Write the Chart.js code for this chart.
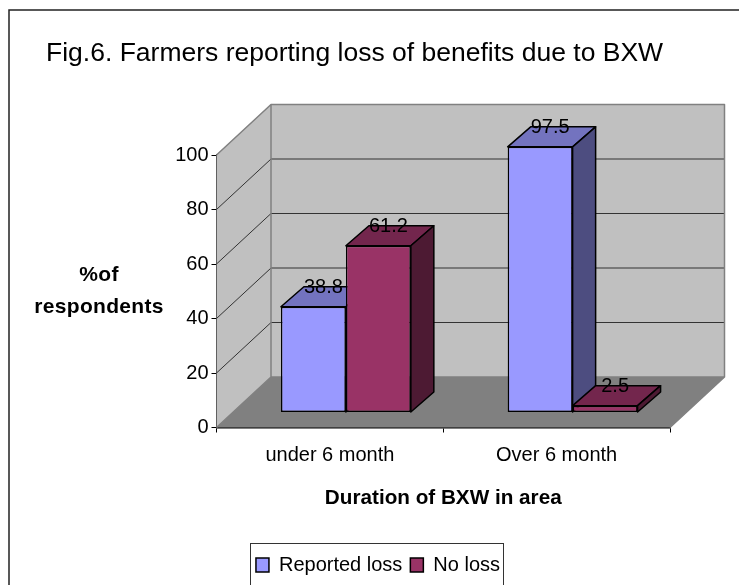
<!DOCTYPE html>
<html>
<head>
<meta charset="utf-8">
<style>html,body{margin:0;padding:0;background:#fff;overflow:hidden}canvas{display:block}</style>
<script src="https://cdn.jsdelivr.net/npm/chart.js@4"></script>
</head>
<body>
<canvas id="c" width="739" height="585"></canvas>
<script>
const categories = ["under 6 month", "Over 6 month"];
const reportedLoss = [38.8, 97.5];
const noLoss = [61.2, 2.5];
const seriesNames = ["Reported loss", "No loss"];
const chartTitle = "Fig.6. Farmers reporting loss of benefits due to BXW";
const xTitle = "Duration of BXW in area";
const yTitleLines = ["%of", "respondents"];

const FONT = '"Liberation Sans", Arial, sans-serif';
const wallDx = 54.5, wallDy = -50.5;   // plot depth
const barDx = 16, barDy = -15;         // bars stand inside the depth
const faceDx = 23, faceDy = -20;       // bar depth

const faces = {
  0: {front: "#9999FF", top: "#7373BF", side: "#4D4D80"},
  1: {front: "#993366", top: "#73264D", side: "#4D1A33"}
};

function poly(ctx, pts, fill, stroke, lw) {
  ctx.beginPath();
  pts.forEach((p, i) => i ? ctx.lineTo(p[0], p[1]) : ctx.moveTo(p[0], p[1]));
  ctx.closePath();
  if (fill) { ctx.fillStyle = fill; ctx.fill(); }
  if (stroke) { ctx.strokeStyle = stroke; ctx.lineWidth = lw; ctx.stroke(); }
}

const box3d = {
  id: "box3d",
  afterLayout(chart) {
    // legend sits a little right of the plot's centre
    chart.legend.left += 20;
    chart.legend.right += 20;
  },
  beforeDraw(chart) {
    const ctx = chart.ctx;
    ctx.save();
    ctx.strokeStyle = "#222";
    ctx.lineWidth = 1.5;
    ctx.strokeRect(9, 10, 900, 900);
    // legend frame
    ctx.strokeStyle = "#333";
    ctx.lineWidth = 1;
    ctx.strokeRect(250.5, 543.5, 253, 60);
    ctx.restore();
  },
  beforeDatasetsDraw(chart) {
    const ctx = chart.ctx, a = chart.chartArea, y = chart.scales.y;
    const L = a.left, R = a.right, T = a.top, B = a.bottom;
    const lx = L + wallDx, rx = R + wallDx, ty = T + wallDy, by = B + wallDy;
    ctx.save();
    ctx.lineJoin = "round";
    poly(ctx, [[L, T], [lx, ty], [lx, by], [L, B]], "#C0C0C0", null);
    poly(ctx, [[lx, ty], [rx, ty], [rx, by], [lx, by]], "#C0C0C0", null);
    poly(ctx, [[L, B], [R, B], [rx, by], [lx, by]], "#808080", null);
    // gridlines
    y.ticks.forEach(t => {
      const py = y.getPixelForValue(t.value);
      if (t.value === 0 || t.value === 100) return;
      ctx.beginPath();
      ctx.moveTo(L, py);
      ctx.lineTo(lx, py + wallDy);
      ctx.lineTo(rx, py + wallDy);
      ctx.strokeStyle = "#333";
      ctx.lineWidth = 1;
      ctx.stroke();
    });
    // wall edges
    ctx.strokeStyle = "#808080";
    ctx.lineWidth = 1.5;
    ctx.beginPath();
    ctx.moveTo(L, T); ctx.lineTo(lx, ty); ctx.lineTo(rx, ty); ctx.lineTo(rx, by); ctx.lineTo(R, B);
    ctx.moveTo(lx, ty); ctx.lineTo(lx, by); ctx.lineTo(L, B);
    ctx.moveTo(lx, by); ctx.lineTo(rx, by);
    ctx.stroke();

    // top and side faces of bars, left to right
    const items = [];
    chart.data.datasets.forEach((d, ds) => {
      chart.getDatasetMeta(ds).data.forEach(el => items.push({el, ds}));
    });
    items.sort((p, q) => p.el.x - q.el.x);
    items.forEach(({el, ds}) => {
      const l = el.x - el.width / 2 + barDx, r = el.x + el.width / 2 + barDx;
      const t = el.y + barDy, b = el.base + barDy;
      poly(ctx, [[l, t], [r, t], [r + faceDx, t + faceDy], [l + faceDx, t + faceDy]], faces[ds].top, "#000", 1.5);
      poly(ctx, [[r, t], [r + faceDx, t + faceDy], [r + faceDx, b + faceDy], [r, b]], faces[ds].side, "#000", 1.5);
    });
    ctx.restore();

    ctx.save();
    ctx.translate(barDx, barDy);
  },
  afterDatasetsDraw(chart) {
    const ctx = chart.ctx;
    ctx.restore();
    ctx.save();
    ctx.fillStyle = "#000";
    ctx.textAlign = "center";
    ctx.textBaseline = "middle";
    ctx.font = "20px " + FONT;
    chart.data.datasets.forEach((d, ds) => {
      chart.getDatasetMeta(ds).data.forEach((el, i) => {
        ctx.fillText(String(d.data[i]), el.x + barDx + 10, el.y + barDy - 19);
      });
    });
    // horizontal value-axis title
    ctx.font = "bold 21px " + FONT;
    if ("letterSpacing" in ctx) ctx.letterSpacing = "0.3px";
    ctx.fillText(yTitleLines[0], 99, 275);
    ctx.fillText(yTitleLines[1], 99, 307);
    ctx.restore();
  }
};

new Chart(document.getElementById("c"), {
  type: "bar",
  data: {
    labels: categories,
    datasets: [
      {label: seriesNames[0], data: reportedLoss, backgroundColor: faces[0].front, borderColor: "#000", borderWidth: 1.5, borderSkipped: false},
      {label: seriesNames[1], data: noLoss, backgroundColor: faces[1].front, borderColor: "#000", borderWidth: 1.5, borderSkipped: false}
    ]
  },
  options: {
    responsive: false,
    animation: false,
    events: [],
    layout: {padding: {left: 46, right: 69, top: 0, bottom: 0}},
    datasets: {bar: {categoryPercentage: 0.573, barPercentage: 1, clip: false}},
    plugins: {
      tooltip: {enabled: false},
      title: {
        display: true, text: chartTitle, align: "start", color: "#000",
        font: {family: FONT, size: 26.5, weight: "normal", lineHeight: 1.2},
        padding: {top: 37.5, bottom: 85.7}
      },
      legend: {
        display: true, position: "bottom",
        labels: {
          color: "#000", boxWidth: 13, boxHeight: 14, padding: 8,
          font: {family: FONT, size: 20}
        }
      }
    },
    scales: {
      x: {
        grid: {drawOnChartArea: false, color: "#000", tickLength: 5, offset: true},
        border: {color: "#000", width: 1.5},
        ticks: {color: "#000", font: {family: FONT, size: 20}, padding: 10.5, maxRotation: 0},
        title: {
          display: true, text: xTitle, color: "#000",
          font: {family: FONT, size: 20.7, weight: "bold", lineHeight: 1.2},
          padding: {top: 0, bottom: 36}
        },
        afterFit(s) { s.height = 119.5; }
      },
      y: {
        min: 0, max: 100,
        grid: {drawOnChartArea: false, color: "#000", tickLength: 5},
        border: {color: "#000", width: 1.5},
        ticks: {color: "#000", stepSize: 20, font: {family: FONT, size: 20}, padding: 3},
        afterFit(s) { s.width = 170.5; }
      }
    }
  },
  plugins: [box3d]
});
</script>
</body>
</html>
